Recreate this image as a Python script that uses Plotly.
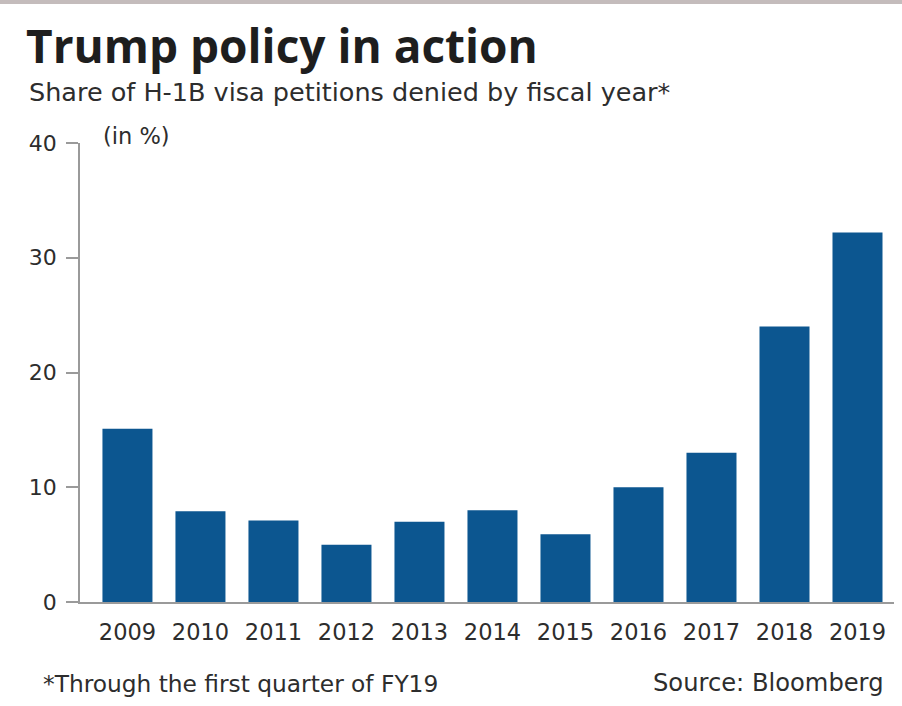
import plotly.graph_objects as go

years = ["2009", "2010", "2011", "2012", "2013", "2014", "2015", "2016", "2017", "2018", "2019"]
denied_pct = [15.1, 7.9, 7.1, 5.0, 7.0, 8.0, 5.9, 10.0, 13.0, 24.0, 32.2]
y_ticks = [0, 10, 20, 30, 40]

W, H = 902, 706
L, R, T, B = 80, 8, 143, 104
plot_h = H - T - B
plot_w = W - L - R

def px_x(p):
    return (p - L) / plot_w

def px_y(p):
    return (H - B - p) / plot_h

FONT = "DejaVu Sans"
TFONT = "Open Sans"
TXT = "#2d2d2d"
BAR = "#0c5690"

fig = go.Figure(go.Bar(
    x=list(range(len(years))), y=denied_pct,
    marker=dict(color=BAR, line=dict(width=0)),
    width=0.685,
    hoverinfo="skip",
))

fig.update_layout(
    width=W, height=H,
    margin=dict(l=L, r=R, t=T, b=B),
    paper_bgcolor="white", plot_bgcolor="white",
    showlegend=False,
    font=dict(family=FONT, color=TXT, size=22),
    xaxis=dict(
        range=[-0.65, 10.5], tickvals=list(range(len(years))), ticktext=years,
        showgrid=False, zeroline=False, showline=True, linecolor="#9a9a9a", linewidth=1.5,
        ticks="", tickfont=dict(size=22.5, color=TXT), ticklabelstandoff=9, fixedrange=True,
    ),
    yaxis=dict(
        range=[0, 40], tickvals=y_ticks, showgrid=False, zeroline=False,
        showline=True, linecolor="#9a9a9a", linewidth=1.5,
        ticks="outside", ticklen=12, tickcolor="#9a9a9a", tickwidth=1.5,
        tickfont=dict(size=22, color=TXT), ticklabelstandoff=5, fixedrange=True,
    ),
    shapes=[dict(type="line", xref="paper", yref="paper",
                 x0=px_x(0), x1=px_x(W), y0=px_y(2), y1=px_y(2),
                 line=dict(color="#c4bcbc", width=4))],
    annotations=[
        dict(text="<b>Trump policy in action</b>", xref="paper", yref="paper",
             x=px_x(24), y=px_y(45), xanchor="left", yanchor="middle",
             showarrow=False, font=dict(size=46, color="#1e1e1e", family=TFONT)),
        dict(text="Share of H-1B visa petitions denied by fiscal year*", xref="paper", yref="paper",
             x=px_x(27), y=px_y(92), xanchor="left", yanchor="middle",
             showarrow=False, font=dict(size=25.5, color=TXT, family=FONT)),
        dict(text="(in %)", xref="paper", yref="paper",
             x=px_x(101), y=px_y(136), xanchor="left", yanchor="middle",
             showarrow=False, font=dict(size=22.5, color=TXT, family=FONT)),
        dict(text="*Through the first quarter of FY19", xref="paper", yref="paper",
             x=px_x(41), y=px_y(683), xanchor="left", yanchor="middle",
             showarrow=False, font=dict(size=23.3, color=TXT, family=FONT)),
        dict(text="Source: Bloomberg", xref="paper", yref="paper",
             x=px_x(886), y=px_y(683), xanchor="right", yanchor="middle",
             showarrow=False, font=dict(size=24.2, color=TXT, family=FONT)),
    ],
)

fig.write_html("out.html")
